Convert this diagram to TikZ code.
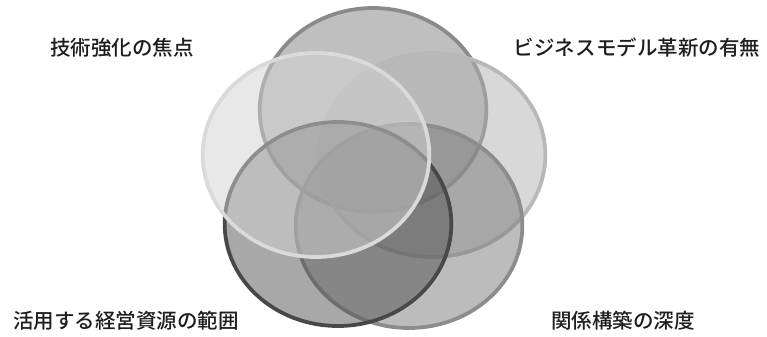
\documentclass[tikz,border=0pt]{standalone}
\usepackage{fontspec}
\newfontfamily\jpfont{Noto Sans CJK JP Medium}
\usepackage{tikz}
\usetikzlibrary{shapes.geometric}
\usepackage{xcolor}
\definecolor{topfill}{RGB}{129,129,129}
\definecolor{topline}{RGB}{138,138,138}
\definecolor{leftfill}{RGB}{211,211,211}
\definecolor{leftline}{RGB}{218,218,218}
\definecolor{rightfill}{RGB}{178,178,178}
\definecolor{rightline}{RGB}{184,184,184}
\definecolor{blfill}{RGB}{82,82,82}
\definecolor{blline}{RGB}{72,72,72}
\definecolor{brfill}{RGB}{122,122,122}
\definecolor{brline}{RGB}{140,140,140}
\definecolor{labeltext}{RGB}{30,30,30}
\tikzset{
  venn/.style={ellipse,minimum width=6.8cm,minimum height=6.12cm,inner sep=0pt,
    line width=3.2pt,fill opacity=0.5,draw opacity=1},
  venntop/.style={venn,draw=topline,fill=topfill},
  vennleft/.style={venn,draw=leftline,fill=leftfill},
  vennright/.style={venn,draw=rightline,fill=rightfill},
  vennbl/.style={venn,draw=blline,fill=blfill},
  vennbr/.style={venn,draw=brline,fill=brfill},
  cornerlabel/.style={font=\jpfont\fontsize{17.5}{20}\selectfont,text=labeltext,inner sep=0pt}
}
\begin{document}
\begin{tikzpicture}[x=0.03cm,y=-0.03cm]
  \useasboundingbox[fill=white] (0,0) rectangle (767,336);
  % five overlapping circles
  \node[venntop] (c1) at (373,110) {};
  \node[vennright] (c2) at (432,155) {};
  \node[vennbr] (c3) at (409,226) {};
  \node[vennbl] (c4) at (338,224) {};
  \node[vennleft] (c5) at (316,155) {};

  % corner labels
  \node[cornerlabel] (l1) at (122,48) {技術強化の焦点};
  \node[cornerlabel] (l2) at (637,48) {ビジネスモデル革新の有無};
  \node[cornerlabel] (l3) at (126,321) {活用する経営資源の範囲};
  \node[cornerlabel] (l4) at (623,321) {関係構築の深度};
\end{tikzpicture}
\end{document}
